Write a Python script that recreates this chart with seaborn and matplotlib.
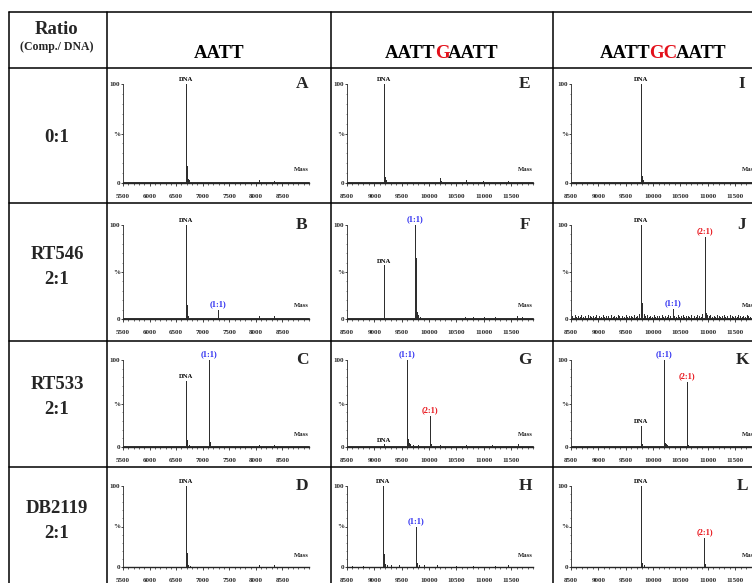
import numpy as np
import pandas as pd
import matplotlib.pyplot as plt
import seaborn as sns
from matplotlib.ticker import MultipleLocator

# ---- spectra: peak masses / relative intensities / peak tags ----
A_mass = [6690, 6700, 6710, 6725, 6745, 6770, 8050, 8065, 8350, 8365]
A_int = [100, 17, 8, 4, 3, 1.5, 3.5, 2, 2.5, 1.5]
A_tag = ['DNA', '', '', '', '', '', '', '', '', '']

B_mass = [6690, 6693, 6700, 6712, 6730, 6760, 7290, 8050, 8065, 8350, 8370]
B_int = [100, 43, 15, 6, 3, 1.5, 10, 3, 1.5, 3, 1.5]
B_tag = ['DNA', '', '', '', '', '', '(1:1)', '', '', '', '']

C_mass = [5700, 6690, 6700, 6712, 6740, 7120, 7130, 7145, 8050, 8350, 8380]
C_int = [1.5, 76, 8, 4, 2, 100, 6, 3, 2, 2.5, 1.5]
C_tag = ['', 'DNA', '', '', '', '(1:1)', '', '', '', '', '']

D_mass = [6690, 6698, 6708, 6725, 6760, 8050, 8350]
D_int = [100, 17, 7, 3, 1.5, 2.5, 2]
D_tag = ['DNA', '', '', '', '', '', '']

E_mass = [9170, 9178, 9190, 9210, 9250, 10200, 10210, 10680, 10980, 11450, 11680]
E_int = [100, 12, 6, 3, 1.5, 5, 2.5, 3, 2.5, 2, 1.5]
E_tag = ['DNA', '', '', '', '', '', '', '', '', '', '']

F_mass = [8720, 9170, 9178, 9480, 9750, 9753, 9760, 9772, 9795, 9830,
          10260, 10480, 10650, 10800, 11000, 11200, 11600, 11700]
F_int = [1.5, 57, 3, 1.5, 100, 65, 15, 7, 4, 2, 1.5, 1.5, 2.5, 2, 2.5, 2, 3, 2]
F_tag = ['', 'DNA', '', '', '(1:1)', '', '', '', '', '', '', '', '', '', '', '', '', '']

G_mass = [8700, 8900, 9170, 9300, 9600, 9605, 9615, 9630, 9660, 9700, 9800,
          10015, 10025, 10040, 10200, 10670, 11000, 11150, 11450, 11620]
G_int = [1.5, 1.5, 3, 1.5, 100, 22, 9, 5, 3, 2, 2, 36, 20, 4, 2, 2, 1.5, 2.5, 1.5, 3]
G_tag = ['', '', 'DNA', '', '(1:1)', '', '', '', '', '', '',
         '(2:1)', '', '', '', '', '', '', '', '']

H_mass = [8600, 8800, 9165, 9170, 9180, 9200, 9230, 9300, 9450, 9765, 9770,
          9785, 9810, 9900, 10150, 10500, 10800, 11200, 11450]
H_int = [1, 1.5, 100, 16, 7, 4, 3, 2, 2.5, 50, 10, 5, 3, 2, 2, 1.5, 1, 1.5, 2]
H_tag = ['', '', 'DNA', '', '', '', '', '', '', '(1:1)', '', '', '', '', '', '', '', '', '']

I_mass = [9780, 9788, 9800, 9820, 9850, 11350]
I_int = [100, 15, 7, 3, 1.5, 1]
I_tag = ['DNA', '', '', '', '', '']

J_mass = [8510, 8540, 8570, 8600, 8630, 8660, 8690, 8720, 8750, 8780, 8810, 8840,
          8870, 8900, 8930, 8960, 8990, 9020, 9050, 9080, 9110, 9140, 9170, 9200,
          9230, 9260, 9290, 9320, 9350, 9380, 9410, 9440, 9470, 9500, 9530, 9560,
          9590, 9620, 9650, 9680, 9710, 9740, 9783, 9790, 9800, 9830, 9860, 9890,
          9920, 9950, 9980, 10010, 10040, 10070, 10100, 10130, 10160, 10190, 10220,
          10250, 10280, 10310, 10357, 10390, 10420, 10450, 10480, 10510, 10540,
          10570, 10600, 10630, 10660, 10690, 10720, 10750, 10780, 10810, 10840,
          10870, 10900, 10944, 10950, 10960, 10990, 11020, 11050, 11080, 11110,
          11140, 11170, 11200, 11230, 11260, 11290, 11320, 11350, 11380, 11410,
          11440, 11470, 11500, 11530, 11560, 11590, 11620, 11650, 11680, 11710,
          11740, 11770, 11800, 11830, 11860, 11890]
J_int = [3, 1.5, 4, 2, 3.5, 2.5, 4.5, 2, 3, 1.5, 4, 3, 2, 3.5, 2.5, 4, 1.5, 3, 2.5,
         4.5, 2, 3.5, 3, 1.5, 4, 2.5, 3, 2, 4, 3.5, 1.5, 3, 2.5, 4.5, 2, 3, 3.5, 2,
         4, 2.5, 3, 5, 100, 17, 7, 5, 3, 4, 2, 3.5, 2.5, 4.5, 2, 3, 3.5, 1.5, 4,
         2.5, 3, 2, 4, 3, 11, 3.5, 2, 4, 2.5, 3, 4.5, 2, 3, 3.5, 2.5, 4, 1.5, 3,
         2.5, 4, 3, 2, 5, 87, 17, 6, 4, 3, 4.5, 2.5, 3, 2, 4, 3.5, 2.5, 3, 4.5,
         2, 3, 1.5, 4, 3, 2.5, 3.5, 2, 4, 3, 2.5, 3.5, 2, 4, 3, 2.5, 3.5, 2, 3]
J_peaks = {9783: 'DNA', 10357: '(1:1)', 10944: '(2:1)'}
J_tag = [J_peaks.get(m, '') for m in J_mass]

K_mass = [8700, 8900, 9200, 9783, 9790, 10198, 10203, 10212, 10230, 10260,
          10617, 10625, 10640, 10700, 11000]
K_int = [1.5, 1, 1, 24, 3, 100, 23, 5, 3, 2, 75, 4, 2, 1.5, 1]
K_tag = ['', '', '', 'DNA', '', '(1:1)', '', '', '', '', '(2:1)', '', '', '', '']

L_mass = [9780, 9788, 9800, 9830, 10940, 10948]
L_int = [100, 12, 5, 2, 36, 4]
L_tag = ['DNA', '', '', '', '(2:1)', '']

# ---- table text ----
row_names = ['0:1', 'RT546\n2:1', 'RT533\n2:1', 'DB2119\n2:1']
col_titles = [[('AATT', 'black')],
              [('AATT', 'black'), ('G', '#e3101a'), ('AATT', 'black')],
              [('AATT', 'black'), ('GC', '#e3101a'), ('AATT', 'black')]]
col_ranges = [(5500, 9000), (8500, 11900), (8500, 11900)]
col_ticks = [[5500, 6000, 6500, 7000, 7500, 8000, 8500],
             [8500, 9000, 9500, 10000, 10500, 11000, 11500],
             [8500, 9000, 9500, 10000, 10500, 11000, 11500]]
letters = ['A', 'B', 'C', 'D', 'E', 'F', 'G', 'H', 'I', 'J', 'K', 'L']

spectra = {
    'A': (A_mass, A_int, A_tag), 'B': (B_mass, B_int, B_tag),
    'C': (C_mass, C_int, C_tag), 'D': (D_mass, D_int, D_tag),
    'E': (E_mass, E_int, E_tag), 'F': (F_mass, F_int, F_tag),
    'G': (G_mass, G_int, G_tag), 'H': (H_mass, H_int, H_tag),
    'I': (I_mass, I_int, I_tag), 'J': (J_mass, J_int, J_tag),
    'K': (K_mass, K_int, K_tag), 'L': (L_mass, L_int, L_tag),
}
tag_colors = {'DNA': 'black', '(1:1)': '#2b2bf0', '(2:1)': '#e8141b'}

sns.set_style("ticks")
plt.rcParams['font.family'] = ['Liberation Serif', 'DejaVu Serif']
plt.rcParams['font.weight'] = 'bold'

W, H = 752, 583
fig = plt.figure(figsize=(W / 100, H / 100), dpi=100)
bg = fig.add_axes([0, 0, 1, 1])
bg.set_xlim(0, W)
bg.set_ylim(H, 0)
bg.axis('off')

# table grid (pixel coordinates)
for y in [12, 68, 203, 341, 467]:
    bg.plot([9, W + 5], [y, y], color='black', lw=1.1, clip_on=False)
for x in [9, 107, 331, 553]:
    bg.plot([x, x], [12, H + 5], color='black', lw=1.1, clip_on=False)

bg.text(57, 30, 'Ratio', ha='center', va='center', fontsize=13.5, fontweight='bold')
bg.text(57, 47, '(Comp./ DNA)', ha='center', va='center', fontsize=8.5, fontweight='bold')

row_y = [137, 267, 397, 521]
for name, y in zip(row_names, row_y):
    bg.text(57, y, name, ha='center', va='center', fontsize=13.5,
            fontweight='bold', linespacing=1.6)

# column titles with highlighted bases: pieces right-aligned at the end of
# their prefix, pulled together slightly so they read as one word
renderer = fig.canvas.get_renderer()


def text_width(s):
    t = bg.text(0, 0, s, fontsize=13.5, fontweight='bold')
    w = t.get_window_extent(renderer).width
    t.remove()
    return w


tighten = 1.0
col_center = [219, 442, 663]
for parts, xc in zip(col_titles, col_center):
    full = ''.join(s for s, _ in parts)
    left = xc - (text_width(full) - tighten * (len(parts) - 1)) / 2
    prefix = ''
    for i, (s, c) in enumerate(parts):
        prefix += s
        bg.text(left + text_width(prefix) - tighten * i, 54, s, ha='right',
                va='center', fontsize=13.5, fontweight='bold', color=c)

# spectra panels
col_left = [123, 347, 571]
row_top = [84, 225, 360, 486]
row_bot = [183, 319, 447, 567]
letter_x = [302, 525, 742]
panel_w = 186

for k, letter in enumerate(letters):
    c, r = divmod(k, 4)
    lo, hi = col_ranges[c]
    mass, inten, tags = spectra[letter]
    ax = fig.add_axes([col_left[c] / W, 1 - row_bot[r] / H, panel_w / W,
                       (row_bot[r] - row_top[r]) / H])
    ax.set_facecolor('none')

    xs, ys = [lo], [0.6]
    for m, h in sorted(zip(mass, inten)):
        xs += [m, m, m]
        ys += [0.6, h, 0.6]
    xs.append(hi)
    ys.append(0.6)
    df = pd.DataFrame({'Mass': xs, 'Intensity': ys})
    sns.lineplot(data=df, x='Mass', y='Intensity', ax=ax, estimator=None,
                 sort=False, color='#2e2e2e', lw=0.7, clip_on=False)

    for m, h, tg in zip(mass, inten, tags):
        if tg:
            fs = 4.8 if tg == 'DNA' else 6
            ax.text(m, h + 2, tg, ha='center', va='bottom', fontsize=fs,
                    fontweight='bold', color=tag_colors[tg], clip_on=False)

    ax.text(hi, 14, 'Mass', ha='right', va='center', fontsize=4.8, fontweight='bold')

    ax.set_xlim(lo, hi)
    ax.set_ylim(0, 100)
    ax.set_xlabel('')
    ax.set_ylabel('')
    ax.set_xticks(col_ticks[c])
    ax.set_xticklabels([str(t) for t in col_ticks[c]])
    ax.xaxis.set_minor_locator(MultipleLocator(100))
    ax.set_yticks([0, 50, 100])
    ax.set_yticklabels(['0', '%', '100'])
    ax.yaxis.set_minor_locator(MultipleLocator(10))
    ax.tick_params(axis='x', which='major', length=2, width=0.6, pad=6, labelsize=5)
    ax.tick_params(axis='x', which='minor', length=1.2, width=0.5)
    ax.tick_params(axis='y', which='major', length=1.5, width=0.6, pad=0.8, labelsize=5)
    ax.tick_params(axis='y', which='minor', length=1, width=0.4)
    for lab in ax.get_xticklabels() + ax.get_yticklabels():
        lab.set_fontweight('bold')
    sns.despine(ax=ax)
    ax.spines['bottom'].set_linewidth(1.0)
    ax.spines['left'].set_linewidth(0.6)

    bg.text(letter_x[c], row_top[r], letter, ha='center', va='center',
            fontsize=12.5, fontweight='bold')

fig.savefig('out.png', dpi=100)
